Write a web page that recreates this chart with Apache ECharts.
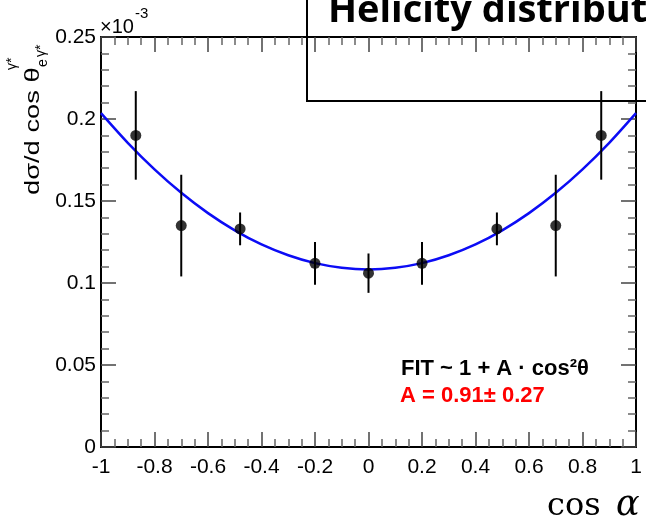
<!DOCTYPE html>
<html><head><meta charset="utf-8">
<script src="https://cdn.jsdelivr.net/npm/echarts@6/dist/echarts.min.js"></script>
<style>html,body{margin:0;padding:0;background:#fff}#c{width:646px;height:526px}</style>
</head><body><div id="c"></div>
<script>
// ---- data ----
const xVals   = [-0.87, -0.70, -0.48, -0.20, 0.00, 0.20, 0.48, 0.70, 0.87];
const yVals   = [0.190, 0.135, 0.133, 0.112, 0.106, 0.112, 0.133, 0.135, 0.190];
const errVals = [0.027, 0.031, 0.010, 0.013, 0.012, 0.013, 0.010, 0.031, 0.027];

const fitX = [-1, -0.9, -0.8, -0.7, -0.6, -0.5, -0.4, -0.3, -0.2, -0.1, 0, 0.1, 0.2, 0.3, 0.4, 0.5, 0.6, 0.7, 0.8, 0.9, 1];
const fitY = [0.2036, 0.1855, 0.1693, 0.1550, 0.1426, 0.1321, 0.1235, 0.1169, 0.1121, 0.1093, 0.1083,
              0.1093, 0.1121, 0.1169, 0.1235, 0.1321, 0.1426, 0.1550, 0.1693, 0.1855, 0.2036];

const xTickLabels = ['-1', '-0.8', '-0.6', '-0.4', '-0.2', '0', '0.2', '0.4', '0.6', '0.8', '1'];
const yTickLabels = ['0', '0.05', '0.1', '0.15', '0.2', '0.25'];

const titleText = 'Helicity distribut';
const fitLabel = 'FIT ~ 1 + A · cos²θ';
const fitParam = 'A = 0.91± 0.27';

// ---- chart ----
const chart = echarts.init(document.getElementById('c'), null, {renderer: 'canvas'});
const X_MIN = -1, X_MAX = 1, X_INT = 0.2;
const Y_MIN = 0, Y_MAX = 0.25, Y_INT = 0.05;
const FONT = '"Liberation Sans", Arial, sans-serif';

function axisCommon(showLabels, labels, min, interval, margin, minorSplit) {
  return {
    type: 'value',
    axisLine: {show: true, onZero: false, lineStyle: {color: '#000', width: 2}},
    axisTick: {show: true, inside: true, length: 15, lineStyle: {color: '#444', width: 1.5}},
    minorTick: {show: true, splitNumber: minorSplit, length: 8, lineStyle: {color: '#666', width: 1.5}},
    splitLine: {show: false},
    minorSplitLine: {show: false},
    axisLabel: {
      show: showLabels, margin: margin, color: '#000', fontFamily: 'Liberation Sans', fontSize: 21,
      formatter: v => labels[Math.round((v - min) / interval)]
    }
  };
}

const option = {
  animation: false,
  backgroundColor: '#fff',
  grid: {left: 101, right: 10, top: 37, bottom: 79, containLabel: false},
  xAxis: [
    Object.assign(axisCommon(true, xTickLabels, X_MIN, X_INT, 10, 4), {min: X_MIN, max: X_MAX, interval: X_INT, position: 'bottom'}),
    Object.assign(axisCommon(false, xTickLabels, X_MIN, X_INT, 10, 4), {min: X_MIN, max: X_MAX, interval: X_INT, position: 'top'})
  ],
  yAxis: [
    Object.assign(axisCommon(true, yTickLabels, Y_MIN, Y_INT, 5, 5), {min: Y_MIN, max: Y_MAX, interval: Y_INT, position: 'left'}),
    Object.assign(axisCommon(false, yTickLabels, Y_MIN, Y_INT, 5, 5), {min: Y_MIN, max: Y_MAX, interval: Y_INT, position: 'right'})
  ],
  series: [
    {
      type: 'line', smooth: 0.3, showSymbol: false, symbol: 'none',
      data: fitX.map((x, i) => [x, fitY[i]]),
      lineStyle: {color: '#0c0cf5', width: 2.5}, z: 2
    },
    {
      type: 'custom',
      data: xVals.map((x, i) => [x, yVals[i] - errVals[i], yVals[i] + errVals[i]]),
      encode: {x: 0, y: [1, 2]},
      renderItem: function (params, api) {
        const p1 = api.coord([api.value(0), api.value(1)]);
        const p2 = api.coord([api.value(0), api.value(2)]);
        return {type: 'line', shape: {x1: p1[0], y1: p1[1], x2: p2[0], y2: p2[1]},
                style: {stroke: '#000', lineWidth: 2}};
      }, z: 3
    },
    {
      type: 'scatter', symbol: 'circle', symbolSize: 11,
      data: xVals.map((x, i) => [x, yVals[i]]),
      itemStyle: {color: '#000'}, z: 4
    }
  ],
  graphic: [
    {type: 'text', left: 328, top: -8, z: 10,
     style: {text: titleText, font: 'bold 38px "Open Sans", sans-serif', fill: '#000'}},
    {type: 'polyline', z: 10, shape: {points: [[307, -5], [307, 101], [651, 101]]},
     style: {stroke: '#000', lineWidth: 2, fill: null}},
    {type: 'text', left: 100, top: 17, z: 10,
     style: {text: '×10', font: '20px ' + FONT, fill: '#000'}},
    {type: 'text', left: 135, top: 6, z: 10,
     style: {text: '-3', font: '15px ' + FONT, fill: '#000'}},
    {type: 'group', x: 33, y: 195, rotation: Math.PI / 2, z: 10, children: [
      {type: 'text', x: 0, y: 0, scaleX: 1.3,
       style: {text: 'dσ/d cos θ', font: '21px ' + FONT, fill: '#000', align: 'left', verticalAlign: 'middle'}},
      {type: 'text', x: 128, y: 10,
       style: {text: 'e', font: '14px ' + FONT, fill: '#000', align: 'left', verticalAlign: 'middle'}},
      {type: 'text', x: 138, y: 8,
       style: {text: 'γ*', font: '14px ' + FONT, fill: '#000', align: 'left', verticalAlign: 'middle'}},
      {type: 'text', x: 125, y: -21,
       style: {text: 'γ*', font: '14px ' + FONT, fill: '#000', align: 'left', verticalAlign: 'middle'}}
    ]},
    {type: 'text', left: 401, top: 358, z: 10,
     style: {text: fitLabel, font: 'bold 22px ' + FONT, fill: '#000'}},
    {type: 'text', left: 400, top: 385, z: 10,
     style: {text: fitParam, font: 'bold 22px ' + FONT, fill: '#ff0000'}},
    {type: 'text', left: 547, top: 491, z: 10,
     style: {text: 'cos', font: '32px "DejaVu Serif", serif', fill: '#000'}},
    {type: 'text', left: 616, top: 488, z: 10,
     style: {text: 'α', font: 'italic 35px "DejaVu Serif", serif', fill: '#000'}}
  ]
};
chart.setOption(option);
</script>
</body></html>
